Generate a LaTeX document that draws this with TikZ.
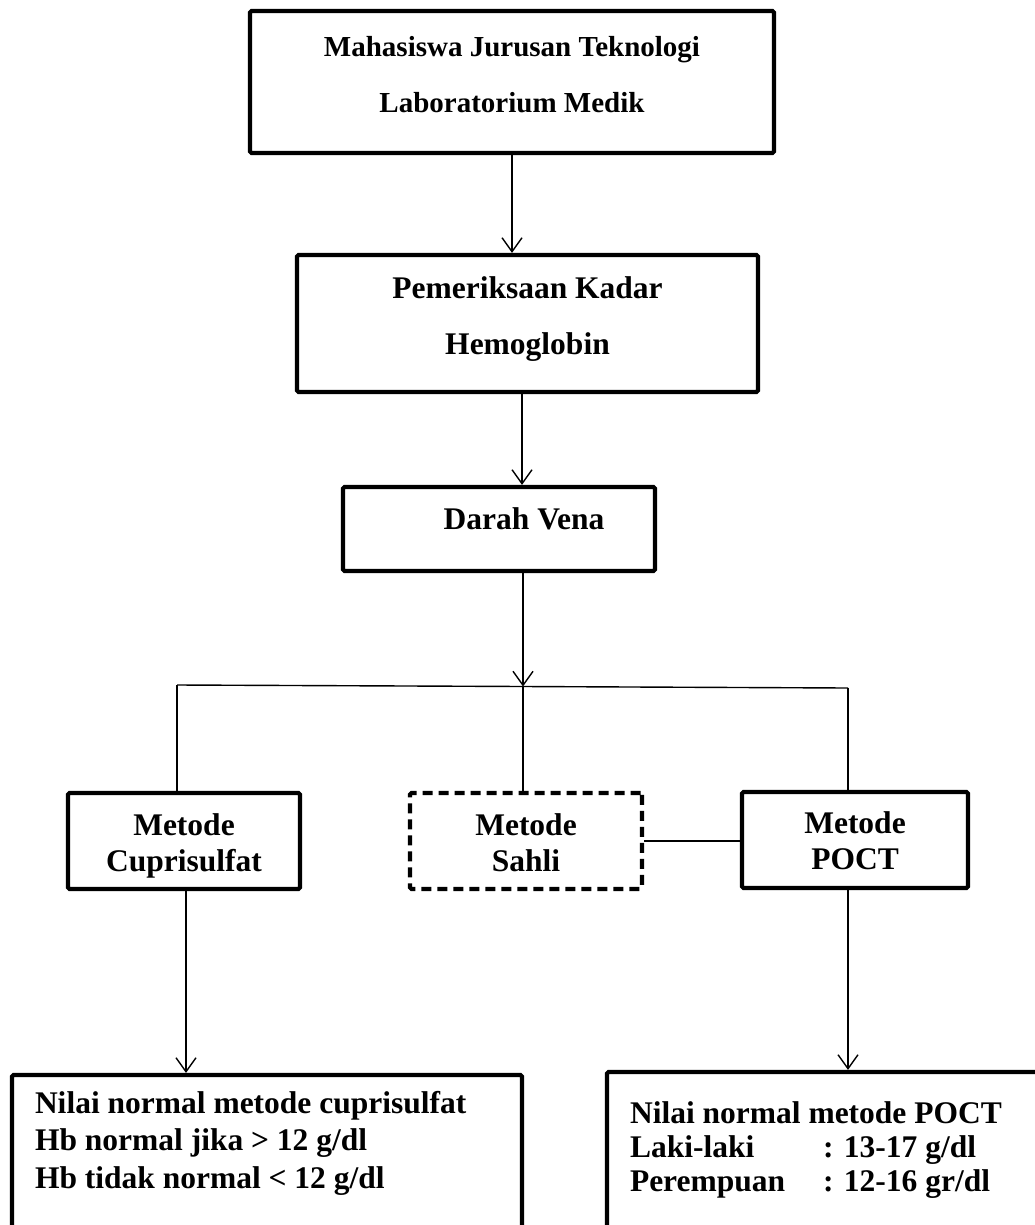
\documentclass[tikz,border=0pt]{standalone}
\usepackage{fontspec}
\setmainfont{Liberation Serif}
\usetikzlibrary{arrows.meta}
\begin{document}
\begin{tikzpicture}[x=1pt,y=-1pt,
  box/.style={draw, line width=4.2pt, rounded corners=1.5pt, inner sep=0pt, align=center},
  bigfont/.style={font=\bfseries\fontsize{31.5}{56}\selectfont},
  titlefont/.style={font=\bfseries\fontsize{29}{56}\selectfont},
  smallfont/.style={font=\bfseries\fontsize{31.5}{36}\selectfont},
  dashbox/.style={box, dash pattern=on 10pt off 6pt},
  ln/.style={line width=1.4pt},
  arr/.style={ln, -{Straight Barb[length=14pt,width=20pt]}}
]
\useasboundingbox (0,0) rectangle (1035,1225);
\clip (0,0) rectangle (1035,1225);

\node[box, titlefont, minimum width=524, minimum height=142, text height=22pt, text depth=72pt] (b1) at (512,82)
  {\begin{tabular}[t]{@{}c@{}}Mahasiswa Jurusan Teknologi\\Laboratorium Medik\end{tabular}};
\node[box, bigfont, minimum width=461, minimum height=137, text height=22pt, text depth=73pt] (b2) at (527.5,323.5)
  {\begin{tabular}[t]{@{}c@{}}Pemeriksaan Kadar\\Hemoglobin\end{tabular}};
\node[box, bigfont, minimum width=312, minimum height=84, text height=22pt, text depth=22pt] (b3) at (499,529)
  {\hspace*{50pt}Darah Vena};

\node[box, smallfont, minimum width=232, minimum height=96, text height=22pt, text depth=34pt] (cupri) at (184,841)
  {\begin{tabular}[t]{@{}c@{}}Metode\\Cuprisulfat\end{tabular}};
\node[dashbox, smallfont, minimum width=232, minimum height=96, text height=22pt, text depth=34pt] (sahli) at (526,841)
  {\begin{tabular}[t]{@{}c@{}}Metode\\Sahli\end{tabular}};
\node[box, smallfont, minimum width=226, minimum height=96, text height=22pt, text depth=36pt] (poct) at (855,840)
  {\begin{tabular}[t]{@{}c@{}}Metode\\POCT\end{tabular}};

\node[box, font=\bfseries\fontsize{31.5}{37.5}\selectfont, anchor=north west, inner xsep=23pt, inner ysep=16pt,
      text height=22pt, text depth=200pt, align=left] (nilai1) at (9.9,1072.9)
  {\begin{tabular}[t]{@{}p{464pt}@{}}Nilai normal metode cuprisulfat\\Hb normal jika > 12 g/dl\\Hb tidak normal < 12 g/dl\end{tabular}};
\node[box, font=\bfseries\fontsize{31.5}{34}\selectfont, anchor=north west, inner xsep=23pt, inner ysep=29pt,
      text height=22pt, text depth=200pt, align=left] (nilai2) at (604.9,1069.9)
  {\begin{tabular}[t]{@{}p{447pt}@{}}Nilai normal metode POCT\\\makebox[193pt][l]{Laki-laki}: 13-17 g/dl\\\makebox[193pt][l]{Perempuan}: 12-16 gr/dl\end{tabular}};

\coordinate (jl) at (177,685);
\coordinate (j) at (523,686.5);
\coordinate (jr) at (848,688);

\draw[arr] (b1.south) -- (b1.south |- b2.north);
\draw[arr] ([xshift=-5.5pt]b2.south) -- ([xshift=-5.5pt]b2.south |- b3.north);
\draw[arr] ([xshift=24pt]b3.south) -- (j);
\draw[ln] (jl) -- (j) -- (jr);
\draw[ln] (jl) -- (jl |- cupri.north);
\draw[ln] (j) -- (j |- sahli.north);
\draw[ln] (jr) -- (jr |- poct.north);
\draw[ln] (sahli.east) -- (sahli.east -| poct.west);
\draw[arr] ([xshift=2pt]cupri.south) -- ([xshift=2pt]cupri.south |- nilai1.north);
\draw[arr] ([xshift=-7pt]poct.south) -- ([xshift=-7pt]poct.south |- nilai2.north);
\end{tikzpicture}
\end{document}
